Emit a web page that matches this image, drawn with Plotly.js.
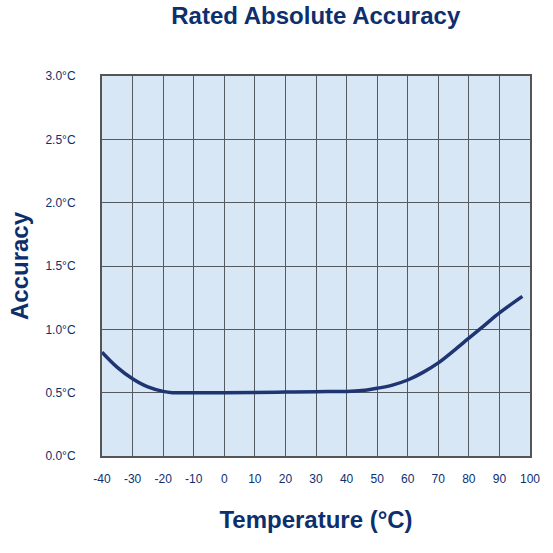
<!DOCTYPE html>
<html>
<head>
<meta charset="utf-8">
<script src="https://cdn.plot.ly/plotly-3.0.1.min.js"></script>
<style>html,body{margin:0;padding:0;background:#fff;}#chart{width:553px;height:553px;}</style>
</head>
<body>
<div id="chart"></div>
<script>
var temperature = [-40, -35, -30, -25, -20, -17, -10, 0, 10, 20, 30, 40, 45, 50, 55, 60, 65, 70, 75, 80, 85, 90, 97.5];
var accuracy = [0.82, 0.70, 0.61, 0.545, 0.51, 0.50, 0.50, 0.50, 0.502, 0.505, 0.508, 0.51, 0.517, 0.535, 0.56, 0.60, 0.66, 0.735, 0.83, 0.93, 1.03, 1.13, 1.26];
var yTickVals = [0, 0.5, 1, 1.5, 2, 2.5, 3];
var yTickText = ['0.0°C', '0.5°C', '1.0°C', '1.5°C', '2.0°C', '2.5°C', '3.0°C'];
var xTickVals = [-40, -30, -20, -10, 0, 10, 20, 30, 40, 50, 60, 70, 80, 90, 100];

var navy = '#0d2f6e';
var font = 'Arial, Liberation Sans, sans-serif';
var trace = {
  x: temperature, y: accuracy, type: 'scatter', mode: 'lines',
  line: {color: '#1f3572', width: 3.5, shape: 'spline', smoothing: 1},
  hoverinfo: 'skip'
};
var layout = {
  width: 553, height: 553,
  margin: {l: 102, r: 23, t: 76, b: 97},
  paper_bgcolor: '#ffffff',
  plot_bgcolor: '#d7e7f6',
  showlegend: false,
  title: {text: 'Rated Absolute Accuracy', font: {family: font, size: 24, color: navy, weight: 'bold'}, x: 0.571, xanchor: 'center', y: 0.971, yanchor: 'middle'},
  xaxis: {
    range: [-40, 100], tickvals: xTickVals, ticktext: xTickVals.map(String),
    showgrid: true, gridcolor: '#555a60', gridwidth: 1,
    showline: true, linecolor: '#555555', linewidth: 2, mirror: true,
    zeroline: false, ticks: '', ticklabelstandoff: 11,
    tickfont: {family: font, size: 12, color: navy},
    title: {text: 'Temperature (°C)', font: {family: font, size: 24, color: navy, weight: 'bold'}, standoff: 26}
  },
  yaxis: {
    range: [0, 3], tickvals: yTickVals, ticktext: yTickText,
    showgrid: true, gridcolor: '#555a60', gridwidth: 1,
    showline: true, linecolor: '#555555', linewidth: 2, mirror: true,
    zeroline: false, ticks: '', ticklabelstandoff: 22,
    tickfont: {family: font, size: 12, color: navy},
    title: {text: 'Accuracy', font: {family: font, size: 24, color: navy, weight: 'bold'}, standoff: 10}
  }
};
Plotly.newPlot('chart', [trace], layout, {displayModeBar: false, staticPlot: true});
</script>
</body>
</html>
